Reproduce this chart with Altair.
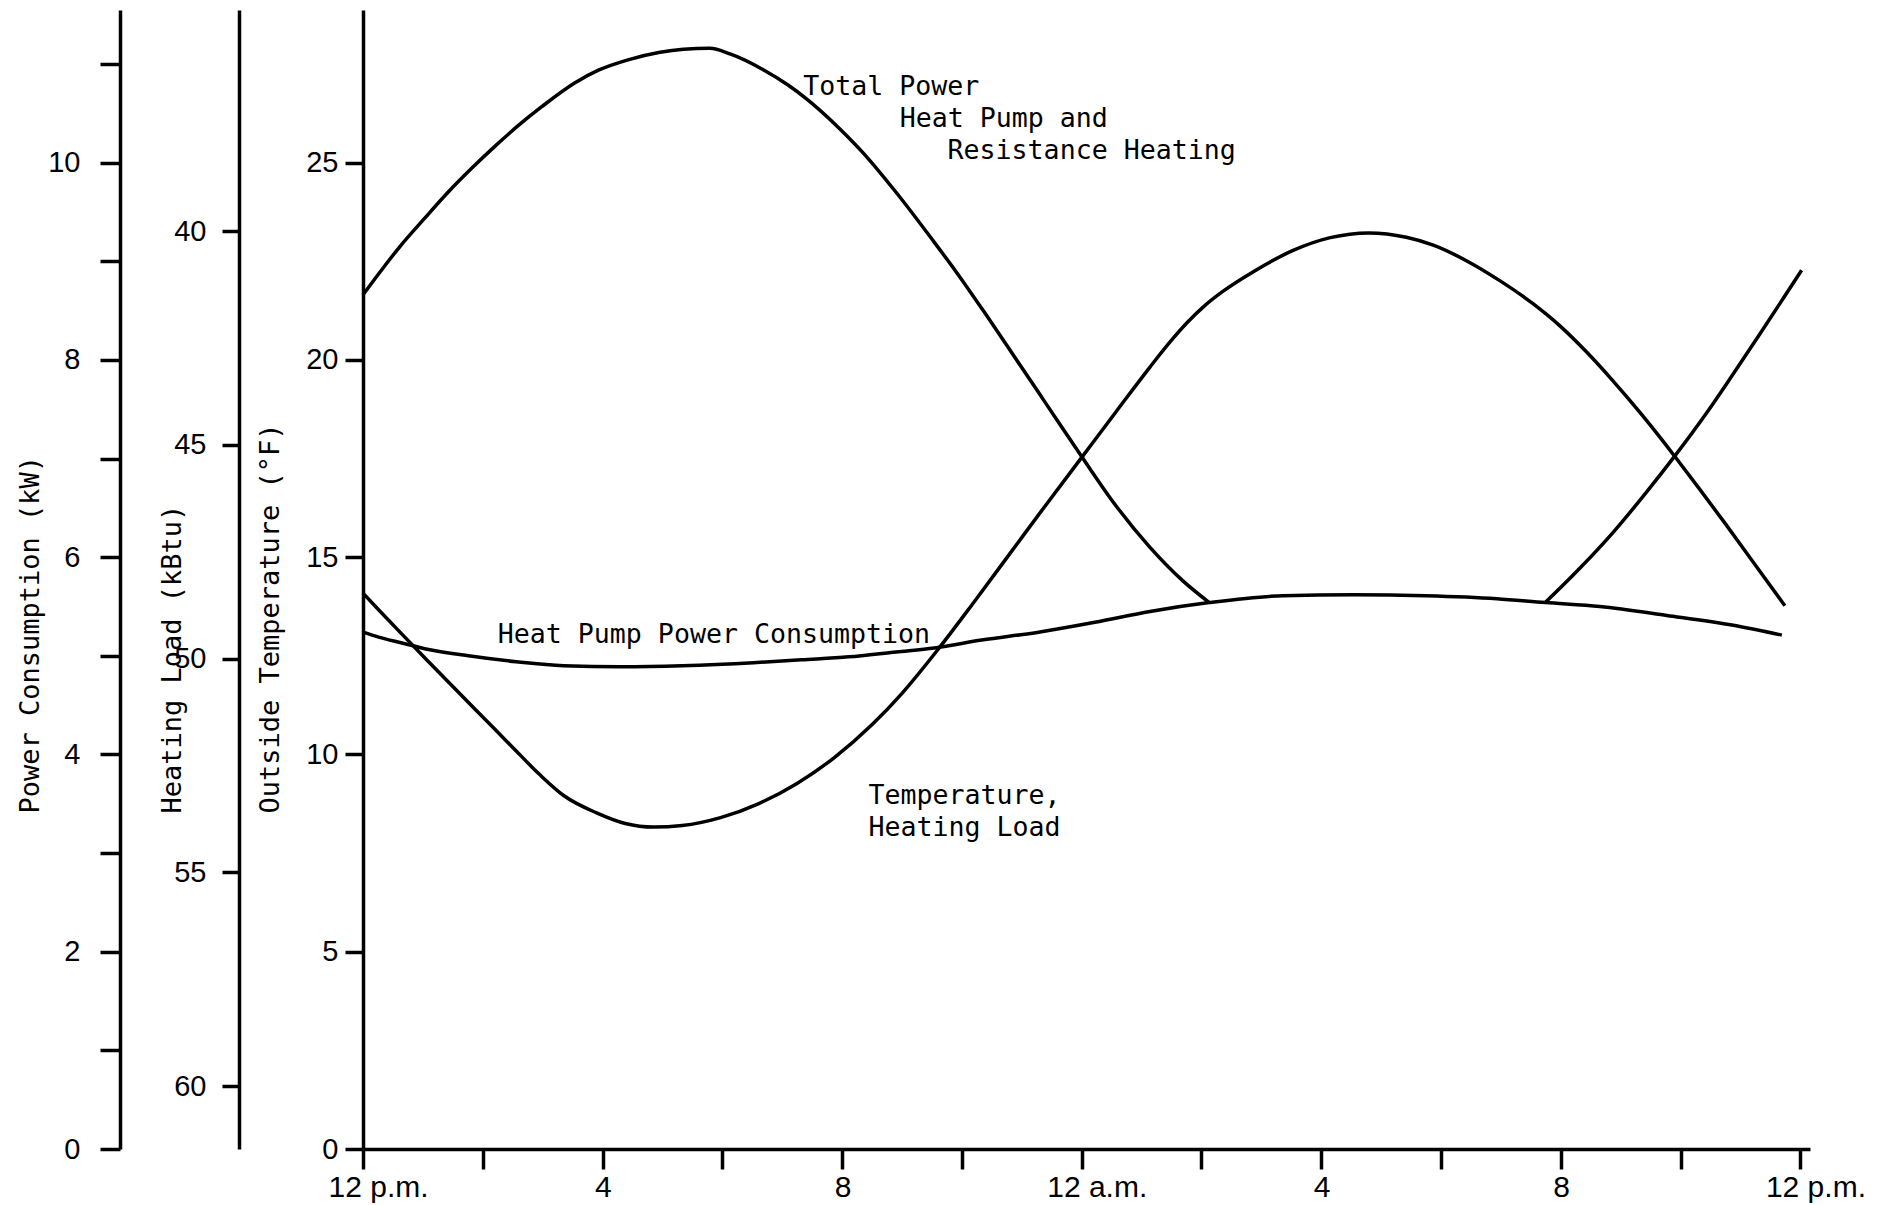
import altair as alt
import pandas as pd

# ---------------- data ----------------
# Total power, heat pump + resistance heating (kW) -- afternoon/evening leg
tp1_hour = [0.0, 0.32, 0.63, 1.02, 1.42, 1.81, 2.21, 2.60, 2.99, 3.54, 3.94, 4.41, 4.96, 5.35,
            5.79, 6.14, 6.69, 7.09, 7.40, 7.95, 8.35, 8.90, 9.53, 9.92, 10.39, 10.88, 11.39,
            12.01, 12.50, 13.14, 13.69, 14.13]
tp1_kw = [8.66, 8.92, 9.16, 9.43, 9.70, 9.94, 10.17, 10.38, 10.57, 10.81, 10.94, 11.04, 11.12,
          11.15, 11.16, 11.10, 10.94, 10.79, 10.65, 10.35, 10.10, 9.70, 9.20, 8.88, 8.47, 8.03,
          7.57, 7.01, 6.58, 6.10, 5.76, 5.54]
# Total power -- morning leg (between the legs it equals the heat pump power)
tp2_hour = [19.74, 20.32, 20.87, 21.43, 21.92, 22.43, 22.88, 23.32, 23.72, 24.02]
tp2_kw = [5.54, 5.89, 6.25, 6.66, 7.04, 7.46, 7.86, 8.26, 8.63, 8.91]

# Heat pump power consumption (kW)
hp_hour = [0.0, 0.26, 0.65, 1.05, 1.76, 2.56, 3.35, 4.30, 5.33, 6.52, 7.32, 8.11, 8.90, 9.54,
           10.33, 11.28, 12.22, 13.14, 14.13, 15.36, 16.55, 17.74, 18.93, 19.74, 20.65, 21.77,
           22.88, 23.69]
hp_kw = [5.24, 5.19, 5.13, 5.07, 5.00, 4.94, 4.90, 4.89, 4.90, 4.93, 4.96, 4.99, 5.04, 5.08,
         5.16, 5.24, 5.34, 5.45, 5.54, 5.61, 5.62, 5.61, 5.58, 5.54, 5.50, 5.41, 5.31, 5.21]

# Outside temperature / heating load (deg F)
tc_hour = [0.0, 0.26, 0.65, 1.05, 1.52, 2.00, 2.48, 2.95, 3.35, 3.90, 4.38, 4.85, 5.33, 5.97,
           6.60, 7.24, 7.87, 8.51, 9.00, 9.60, 10.20, 10.81, 11.39, 12.01, 12.58, 13.14, 13.50,
           13.77, 14.05, 14.35, 14.88, 15.52, 16.15, 16.79, 17.42, 17.87, 18.43, 18.98, 19.54,
           19.98, 20.43, 20.87, 21.32, 21.65, 21.92, 22.32, 22.77, 23.21, 23.74]
tc_f = [14.09, 13.67, 13.05, 12.42, 11.69, 10.95, 10.21, 9.49, 8.96, 8.52, 8.25, 8.16, 8.20,
        8.40, 8.75, 9.26, 9.92, 10.77, 11.55, 12.66, 13.86, 15.11, 16.30, 17.55, 18.70, 19.82,
        20.50, 20.96, 21.37, 21.73, 22.25, 22.77, 23.10, 23.22, 23.11, 22.91, 22.51, 22.01,
        21.42, 20.87, 20.20, 19.47, 18.67, 18.05, 17.52, 16.72, 15.80, 14.88, 13.77]

# Tick values
x_ticks = list(range(0, 25, 2))
power_ticks = list(range(0, 12))
temp_ticks = [0, 5, 10, 15, 20, 25]
heat_ticks = [40, 45, 50, 55, 60]

# Annotations (text, hour, deg F)
note_text = ["Total Power", "Heat Pump and", "Resistance Heating",
             "Heat Pump Power Consumption", "Temperature,", "Heating Load"]
note_hour = [7.35, 8.96, 9.76, 2.25, 8.44, 8.44]
note_temp = [26.92, 26.10, 25.30, 13.02, 8.96, 8.14]

# ---------------- layout ----------------
W, H = 1447, 1139
X_MAX = 24.16
T_MAX = 28.87
P_MAX = T_MAX / 2.5
HL_TOP, HL_BOTTOM = 34.83, 61.47

LABEL_FONT = "Liberation Sans"
TEXT_FONT = "DejaVu Sans Mono"
INK = "black"
LINE_W = 3.5
Y_LABEL_SIZE = 29

tp1_df = pd.DataFrame({"hour": tp1_hour, "kw": tp1_kw, "series": "Total Power (evening)"})
tp2_df = pd.DataFrame({"hour": tp2_hour, "kw": tp2_kw, "series": "Total Power (morning)"})
hp_df = pd.DataFrame({"hour": hp_hour, "kw": hp_kw, "series": "Heat Pump"})
power_df = pd.concat([hp_df, tp1_df, tp2_df], ignore_index=True)
tc_df = pd.DataFrame({"hour": tc_hour, "temp": tc_f})
heat_df = pd.DataFrame({"load": heat_ticks})
note_df = pd.DataFrame({"label": note_text, "hour": note_hour, "temp": note_temp})

common_axis = dict(
    domainColor=INK, domainWidth=3.5, tickColor=INK, tickWidth=3.5,
    labelColor=INK, labelFont=LABEL_FONT,
    titleColor=INK, titleFont=TEXT_FONT, titleFontSize=27, titleFontWeight="normal",
    grid=False, labelOverlap=False,
)

x_label_expr = ("datum.value % 4 == 0 ? (datum.value % 24 == 0 ? '12 p.m.' : "
                "(datum.value == 12 ? '12 a.m.' : (datum.value % 12 == 4 ? '4' : '8'))) : ''")

x_enc = alt.X(
    "hour:Q",
    scale=alt.Scale(domain=[0, X_MAX], nice=False, zero=False),
    axis=alt.Axis(
        values=x_ticks, title=None, labelExpr=x_label_expr, tickSize=20,
        labelFlush=False, labelPadding=3, labelAlign="left", labelFontSize=30,
        labelOffset={"condition": {"test": "datum.value % 12 === 0", "value": -35}, "value": -8},
        **common_axis,
    ),
)

temp_line = alt.Chart(tc_df).mark_line(color=INK, strokeWidth=LINE_W, interpolate="monotone").encode(
    x=x_enc,
    y=alt.Y(
        "temp:Q",
        scale=alt.Scale(domain=[0, T_MAX], nice=False, zero=False),
        axis=alt.Axis(
            orient="left", offset=0, values=temp_ticks, tickSize=18, labelPadding=7,
            labelFontSize=Y_LABEL_SIZE,
            title="Outside Temperature (°F)", titleAngle=270, titleAlign="left",
            titleBaseline="middle", titleX=-93, titleY=803, **common_axis,
        ),
    ),
)

power_lines = alt.Chart(power_df).mark_line(color=INK, strokeWidth=LINE_W, interpolate="monotone").encode(
    x=x_enc,
    y=alt.Y(
        "kw:Q",
        scale=alt.Scale(domain=[0, P_MAX], nice=False, zero=False),
        axis=alt.Axis(
            orient="left", offset=243, values=power_ticks, tickSize=20, labelPadding=20,
            labelFontSize=Y_LABEL_SIZE,
            labelExpr="datum.value % 2 === 0 ? datum.label : ''",
            title="Power Consumption (kW)", titleAngle=270, titleAlign="left",
            titleBaseline="middle", titleX=-90, titleY=803, **common_axis,
        ),
    ),
    detail="series:N",
)

heat_axis = alt.Chart(heat_df).mark_point(opacity=0).encode(
    x=alt.value(0),
    y=alt.Y(
        "load:Q",
        scale=alt.Scale(domain=[HL_TOP, HL_BOTTOM], reverse=True, nice=False, zero=False),
        axis=alt.Axis(
            orient="left", offset=124, values=heat_ticks, tickSize=17, labelPadding=16,
            labelFontSize=Y_LABEL_SIZE,
            title="Heating Load (kBtu)", titleAngle=270, titleAlign="left",
            titleBaseline="middle", titleX=-67, titleY=803, **common_axis,
        ),
    ),
)

notes = alt.Chart(note_df).mark_text(
    align="left", baseline="middle", font=TEXT_FONT, fontSize=26.6, color=INK
).encode(
    x=x_enc,
    y=alt.Y("temp:Q", scale=alt.Scale(domain=[0, T_MAX], nice=False, zero=False), axis=None),
    text="label:N",
)

chart = (
    alt.layer(temp_line, power_lines, heat_axis, notes)
    .resolve_scale(y="independent")
    .properties(
        width=W, height=H,
        autosize=alt.AutoSizeParams(type="none"),
        padding={"left": 363, "top": 10, "right": 76, "bottom": 56},
        background="white",
    )
    .configure_view(stroke=None)
)

chart.save("out.html", embed_options={"renderer": "svg", "actions": False})
